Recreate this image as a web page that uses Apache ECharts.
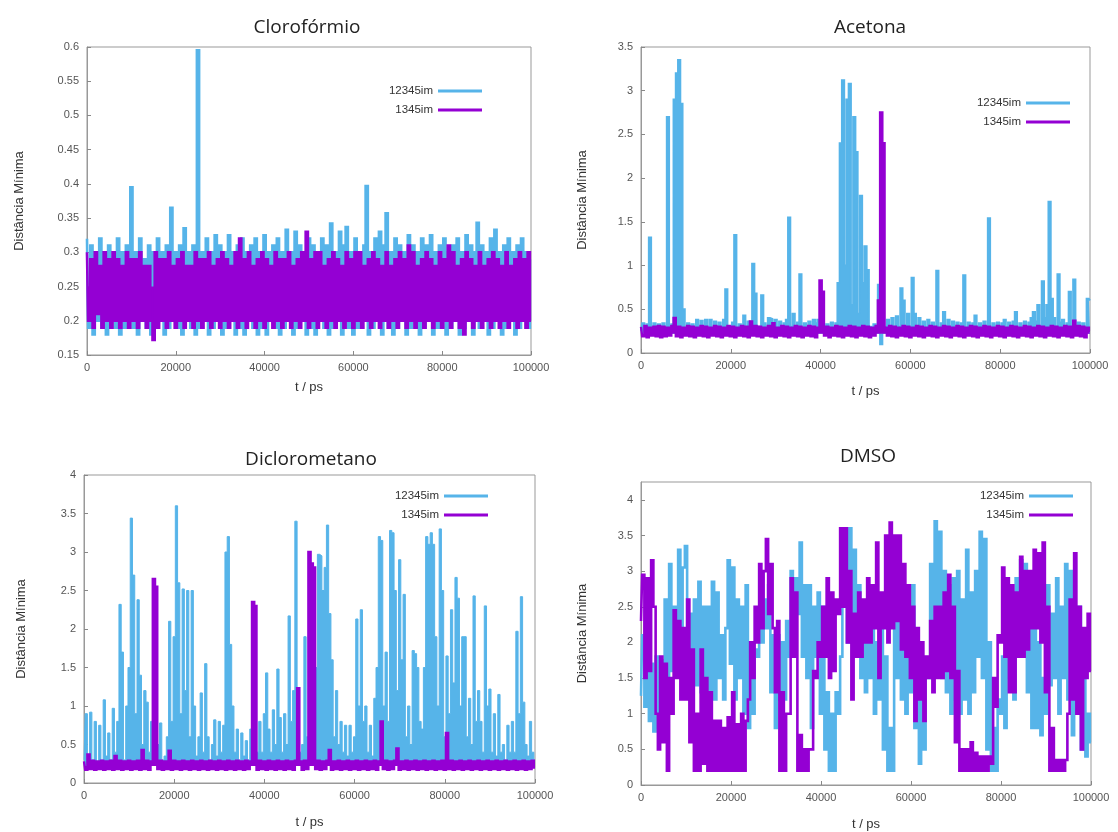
<!DOCTYPE html>
<html>
<head>
<meta charset="utf-8">
<script src="https://cdn.jsdelivr.net/npm/echarts@6/dist/echarts.min.js"></script>
<style>
html,body{margin:0;padding:0;background:#fff;}
#chart{width:1118px;height:832px;}
</style>
</head>
<body>
<div id="chart"></div>
<script>
// Sample times (ps): one sample every 500 ps, 0..100000
const timeStep = 500;
const sampleCount = 201;
const xTicks = [0, 20000, 40000, 60000, 80000, 100000];
const panelTitles = ['Clorofórmio', 'Acetona', 'Diclorometano', 'DMSO'];
const seriesNames = ['12345im', '1345im'];

// Clorofórmio
const cloro12345 = [
0.32,0.19,0.31,0.18,0.30,0.20,0.32,0.19,0.30,0.18,0.31,0.20,0.29,0.19,0.32,0.18,0.30,0.19,0.31,0.20,
0.395,0.19,0.30,0.18,0.32,0.20,0.29,0.19,0.31,0.18,0.30,0.19,0.32,0.20,0.30,0.18,0.31,0.19,0.365,0.20,
0.30,0.19,0.31,0.18,0.335,0.20,0.30,0.19,0.31,0.18,0.595,0.19,0.30,0.20,0.32,0.18,0.30,0.19,0.325,0.20,
0.31,0.18,0.30,0.19,0.325,0.20,0.30,0.18,0.31,0.19,0.32,0.18,0.30,0.20,0.31,0.19,0.32,0.18,0.30,0.19,
0.325,0.18,0.30,0.20,0.31,0.19,0.32,0.18,0.30,0.19,0.333,0.20,0.30,0.18,0.33,0.19,0.31,0.20,0.30,0.18,
0.32,0.19,0.31,0.18,0.30,0.20,0.32,0.19,0.31,0.18,0.342,0.19,0.30,0.20,0.33,0.18,0.31,0.337,0.19,0.30,
0.18,0.32,0.19,0.30,0.20,0.31,0.397,0.18,0.30,0.19,0.32,0.20,0.33,0.18,0.31,0.357,0.19,0.30,0.18,0.32,
0.19,0.31,0.20,0.30,0.18,0.325,0.19,0.31,0.20,0.30,0.18,0.32,0.19,0.31,0.20,0.325,0.18,0.30,0.19,0.31,
0.20,0.32,0.18,0.30,0.19,0.31,0.20,0.32,0.18,0.30,0.19,0.325,0.20,0.31,0.18,0.30,0.343,0.19,0.31,0.20,
0.30,0.18,0.32,0.19,0.333,0.20,0.30,0.18,0.31,0.19,0.32,0.20,0.30,0.18,0.31,0.19,0.32,0.20,0.30,0.19,0.29
];
const cloro1345 = [
0.30,0.20,0.29,0.19,0.30,0.21,0.28,0.19,0.30,0.20,0.29,0.19,0.30,0.20,0.29,0.19,0.28,0.20,0.30,0.19,
0.29,0.20,0.29,0.19,0.30,0.20,0.28,0.19,0.28,0.20,0.172,0.30,0.19,0.29,0.20,0.29,0.19,0.30,0.20,0.28,
0.19,0.29,0.20,0.30,0.19,0.28,0.20,0.28,0.19,0.30,0.20,0.29,0.19,0.29,0.20,0.30,0.19,0.28,0.20,0.29,
0.19,0.30,0.20,0.29,0.19,0.28,0.20,0.30,0.19,0.32,0.20,0.29,0.19,0.30,0.20,0.28,0.19,0.29,0.20,0.30,
0.19,0.29,0.20,0.28,0.19,0.30,0.20,0.29,0.19,0.29,0.20,0.30,0.19,0.28,0.20,0.29,0.19,0.30,0.20,0.33,
0.19,0.29,0.20,0.30,0.19,0.30,0.20,0.28,0.19,0.29,0.20,0.30,0.19,0.29,0.20,0.28,0.19,0.30,0.20,0.29,
0.19,0.30,0.20,0.30,0.19,0.28,0.20,0.29,0.19,0.30,0.20,0.29,0.19,0.28,0.20,0.30,0.19,0.28,0.20,0.29,
0.19,0.30,0.20,0.29,0.19,0.31,0.20,0.30,0.19,0.28,0.20,0.29,0.19,0.30,0.20,0.29,0.19,0.28,0.20,0.30,
0.19,0.29,0.20,0.31,0.19,0.30,0.20,0.28,0.19,0.29,0.18,0.30,0.20,0.29,0.19,0.28,0.20,0.30,0.19,0.28,
0.20,0.29,0.19,0.30,0.20,0.29,0.19,0.28,0.20,0.30,0.19,0.28,0.20,0.29,0.19,0.30,0.20,0.29,0.19,0.30,0.20
];

// Acetona
const acet12345 = [
0.25,0.34,0.24,0.33,1.32,0.25,0.34,0.24,0.33,0.25,
0.34,0.26,2.70,0.25,0.33,2.90,3.20,3.35,2.85,0.50,
0.26,0.34,0.24,0.33,0.25,0.38,0.26,0.37,0.25,0.38,
0.26,0.38,0.25,0.36,0.24,0.35,0.26,0.38,0.73,0.30,
0.25,0.35,1.35,0.28,0.33,0.26,0.43,0.25,0.36,0.24,
1.02,0.68,0.30,0.25,0.66,0.34,0.26,0.40,0.39,0.25,
0.38,0.26,0.36,0.25,0.34,0.38,1.55,0.30,0.45,0.26,
0.35,0.90,0.26,0.34,0.25,0.36,0.26,0.38,0.34,0.38,
0.40,0.65,0.26,0.33,0.25,0.35,0.26,0.34,0.80,2.40,
3.12,1.00,2.90,3.08,0.55,2.70,2.30,0.45,1.80,0.80,
1.22,0.95,0.30,0.26,0.33,0.25,0.78,0.10,0.30,0.26,
0.38,0.27,0.40,0.28,0.42,0.30,0.74,0.60,0.30,0.45,
0.30,0.86,0.45,0.28,0.40,0.26,0.36,0.25,0.38,0.26,
0.35,0.26,0.94,0.27,0.34,0.47,0.26,0.38,0.25,0.36,
0.26,0.35,0.25,0.34,0.89,0.26,0.35,0.25,0.34,0.43,
0.26,0.34,0.25,0.36,0.26,1.54,0.28,0.34,0.25,0.35,
0.26,0.34,0.38,0.26,0.35,0.25,0.36,0.47,0.26,0.34,
0.25,0.36,0.26,0.35,0.40,0.47,0.36,0.55,0.30,0.82,
0.40,0.55,1.73,0.62,0.40,0.30,0.90,0.35,0.38,0.26,
0.34,0.70,0.30,0.84,0.28,0.35,0.25,0.34,0.26,0.62,0.60
];
const acet1345 = [
0.30,0.19,0.31,0.18,0.29,0.20,0.30,0.19,0.31,0.18,
0.30,0.19,0.29,0.20,0.31,0.40,0.19,0.30,0.18,0.29,
0.20,0.31,0.19,0.30,0.18,0.29,0.20,0.31,0.19,0.30,
0.18,0.29,0.20,0.31,0.19,0.30,0.18,0.29,0.20,0.31,
0.19,0.30,0.18,0.29,0.20,0.31,0.19,0.30,0.18,0.36,
0.20,0.31,0.19,0.30,0.18,0.29,0.20,0.31,0.19,0.34,
0.18,0.29,0.20,0.31,0.19,0.30,0.18,0.29,0.20,0.31,
0.19,0.30,0.18,0.29,0.20,0.31,0.19,0.30,0.18,0.29,
0.83,0.70,0.20,0.30,0.18,0.29,0.20,0.31,0.19,0.30,
0.18,0.29,0.20,0.31,0.19,0.30,0.18,0.29,0.20,0.31,
0.19,0.30,0.18,0.29,0.20,0.31,0.60,2.75,2.40,0.29,
0.20,0.31,0.19,0.30,0.18,0.29,0.20,0.31,0.19,0.30,
0.18,0.29,0.20,0.31,0.19,0.30,0.18,0.29,0.20,0.31,
0.19,0.30,0.18,0.29,0.20,0.31,0.19,0.30,0.18,0.29,
0.20,0.31,0.19,0.30,0.18,0.29,0.20,0.31,0.19,0.30,
0.18,0.29,0.20,0.31,0.19,0.30,0.18,0.29,0.20,0.31,
0.19,0.30,0.18,0.29,0.20,0.31,0.19,0.30,0.18,0.29,
0.20,0.31,0.19,0.30,0.18,0.29,0.20,0.31,0.19,0.30,
0.18,0.29,0.20,0.31,0.19,0.30,0.18,0.29,0.20,0.31,
0.19,0.30,0.18,0.37,0.20,0.31,0.19,0.30,0.18,0.29,0.25
];

// Diclorometano
const dicl12345 = [
0.30,0.90,0.35,0.92,0.30,0.80,0.28,0.75,0.30,1.08,
0.35,0.65,0.30,0.97,0.40,0.80,2.32,1.70,0.30,1.00,
1.50,3.44,2.70,0.90,2.38,1.40,0.50,1.20,1.05,0.40,
0.80,0.30,0.28,0.50,0.78,0.30,0.35,0.60,2.10,0.80,
1.90,3.60,2.60,0.90,2.52,1.20,2.50,0.60,2.50,1.00,
0.35,0.60,1.17,0.40,1.55,0.60,0.30,0.50,0.82,0.35,
0.80,0.40,0.75,3.00,3.20,1.80,1.00,0.40,0.70,0.30,
0.65,0.35,0.55,0.30,0.70,0.35,0.30,0.40,0.80,0.40,
0.90,1.43,0.70,0.40,0.95,0.50,1.48,0.85,0.40,0.90,
0.50,2.17,0.80,1.20,3.40,1.00,0.40,0.50,1.90,0.60,
0.30,0.50,0.80,1.50,2.97,2.95,2.50,2.80,3.35,2.20,
1.60,0.60,1.20,0.50,0.80,0.40,0.75,0.35,0.75,0.40,
0.60,2.13,1.00,2.25,0.80,1.00,0.40,0.75,0.35,1.10,
1.50,3.20,3.15,1.00,1.70,0.80,3.28,3.25,2.50,1.20,
2.90,1.60,2.45,0.60,1.00,0.50,1.72,1.68,1.50,0.80,
0.70,1.50,3.20,3.10,3.25,3.10,1.90,1.00,3.30,2.50,
0.60,1.65,0.90,2.25,1.30,2.67,2.40,1.00,1.90,1.90,
0.60,1.10,0.50,2.43,0.80,1.20,0.80,0.40,2.30,1.00,
1.22,0.40,0.90,0.35,1.15,0.40,0.50,0.30,0.75,0.40,
0.80,0.40,1.97,0.90,2.42,1.05,0.50,0.35,0.80,0.40,0.30
];
const dicl1345 = [
0.28,0.17,0.37,0.18,0.29,0.17,0.28,0.18,0.29,0.17,
0.28,0.18,0.29,0.17,0.35,0.18,0.29,0.17,0.28,0.18,
0.29,0.17,0.28,0.18,0.29,0.17,0.43,0.18,0.29,0.17,
0.28,2.65,2.55,0.18,0.29,0.17,0.28,0.18,0.42,0.17,
0.29,0.18,0.28,0.17,0.29,0.18,0.28,0.17,0.29,0.18,
0.28,0.17,0.29,0.18,0.28,0.17,0.29,0.18,0.28,0.17,
0.29,0.18,0.28,0.17,0.29,0.18,0.28,0.17,0.29,0.18,
0.28,0.17,0.29,0.18,0.28,2.35,2.30,0.17,0.29,0.18,
0.28,0.17,0.29,0.18,0.28,0.17,0.29,0.18,0.28,0.17,
0.29,0.18,0.28,0.17,0.29,1.23,0.28,0.17,0.29,0.18,
3.00,2.85,2.80,0.18,0.29,0.17,0.28,0.18,0.29,0.43,
0.17,0.28,0.18,0.29,0.17,0.28,0.18,0.29,0.17,0.28,
0.18,0.29,0.17,0.28,0.18,0.29,0.17,0.28,0.18,0.29,
0.17,0.28,0.80,0.18,0.29,0.17,0.28,0.18,0.29,0.45,
0.17,0.28,0.18,0.29,0.17,0.28,0.18,0.29,0.17,0.28,
0.18,0.29,0.17,0.28,0.18,0.29,0.17,0.28,0.18,0.29,
0.17,0.65,0.18,0.29,0.17,0.28,0.18,0.29,0.17,0.28,
0.18,0.29,0.17,0.28,0.18,0.29,0.17,0.28,0.18,0.29,
0.17,0.28,0.18,0.29,0.17,0.28,0.18,0.29,0.17,0.28,
0.18,0.29,0.17,0.28,0.18,0.29,0.17,0.28,0.18,0.29,0.20
];

// DMSO
const dmso12345 = [
1.25,2.10,1.10,1.60,0.90,1.70,0.75,1.80,0.80,1.75,
1.30,2.60,1.50,3.10,1.60,2.50,2.00,3.30,2.00,3.05,
3.35,1.50,2.40,1.70,2.60,1.40,2.85,1.30,2.50,1.00,
2.50,1.20,2.85,1.20,2.70,1.50,2.10,1.20,2.20,3.15,
1.70,3.05,1.20,2.60,1.50,2.50,1.00,2.80,0.80,1.80,
1.00,1.90,1.80,2.40,2.00,2.60,2.20,2.80,1.30,2.10,
0.80,2.10,1.20,2.00,1.20,2.30,1.80,3.00,2.00,2.90,
2.40,3.40,1.80,2.80,1.50,2.80,0.80,2.50,1.80,2.70,
1.00,2.50,0.50,1.30,0.20,1.00,0.20,1.30,1.00,1.80,
2.50,3.20,2.00,3.60,2.00,3.30,1.80,2.80,1.50,2.50,
1.30,2.40,1.50,2.60,1.00,2.00,1.20,2.40,0.50,1.80,
0.20,0.80,0.20,2.30,1.50,2.60,1.20,2.80,1.00,2.20,
1.30,2.80,0.80,2.00,0.30,1.20,0.50,1.50,1.50,3.10,
2.00,3.70,2.00,3.55,1.50,3.00,1.30,2.80,1.00,2.90,
1.20,3.00,1.00,2.60,1.20,3.30,1.00,2.70,1.30,3.00,
1.80,3.55,1.50,3.45,0.50,2.00,0.20,0.80,0.20,1.20,
1.00,1.80,0.80,2.00,1.50,2.70,1.20,2.90,2.00,3.15,
1.80,3.10,1.30,2.90,0.80,2.50,0.80,2.00,0.70,1.50,
1.00,2.80,1.40,2.40,1.50,2.90,1.00,2.50,1.50,3.10,
1.20,3.00,0.70,2.00,1.00,2.50,0.50,1.50,0.40,1.00,0.60
];
const dmso1345 = [
2.30,2.95,1.50,2.90,1.60,3.15,2.50,1.00,0.50,1.80,
0.60,1.70,0.20,1.50,1.00,2.45,1.50,2.30,1.20,2.20,
1.20,2.60,0.60,1.90,0.20,1.00,0.20,1.90,0.30,1.50,
0.20,1.30,0.20,0.90,0.20,0.90,0.20,0.80,0.20,0.95,
0.20,1.30,0.20,0.85,0.20,1.00,0.20,0.90,1.20,2.00,
1.50,2.50,2.00,3.10,2.20,3.00,3.45,2.40,3.10,2.20,
1.30,2.30,0.20,1.30,0.20,1.00,1.00,2.90,1.80,2.70,
0.20,0.70,0.20,0.50,0.20,0.50,0.50,1.60,1.50,2.00,
1.80,2.50,1.80,2.90,1.50,2.70,1.60,2.60,2.40,3.60,
2.50,3.60,2.00,3.00,1.20,2.40,1.80,2.70,1.80,2.60,
2.00,2.90,2.00,2.80,2.20,3.40,1.50,2.70,2.20,3.50,
2.00,3.68,2.20,3.50,2.30,3.50,1.90,3.10,1.80,2.80,
1.50,2.50,0.90,2.20,1.20,2.00,0.90,1.80,1.50,2.30,
1.30,2.50,1.50,2.50,1.50,2.70,1.60,2.95,1.50,2.50,
0.60,1.60,0.20,0.50,0.20,0.50,0.20,0.60,0.20,0.45,
0.20,0.40,0.20,0.40,0.20,0.40,0.30,1.50,1.10,2.10,
2.00,3.05,1.80,2.90,1.30,2.80,1.30,2.70,1.80,3.20,
1.80,3.00,1.90,3.00,2.20,3.30,2.20,3.25,2.00,3.40,
1.30,2.50,0.20,0.80,0.20,0.35,0.20,0.35,0.20,0.35,
1.00,2.60,1.20,3.25,1.00,2.50,0.50,2.20,1.50,2.40,1.60
];

const yMin = [0.15, 0, 0, 0];
const yMax = [0.6, 3.5, 4, 4.25];
const yInterval = [0.05, 0.5, 0.5, 0.5];

const panelData = [
  [cloro12345, cloro1345],
  [acet12345, acet1345],
  [dicl12345, dicl1345],
  [dmso12345, dmso1345]
];

const colors = ['#56B4E9', '#9400D3'];
// stroke widths per panel: [12345im, 1345im]
const lineWidths = [[2.6, 2.6], [2.0, 2.4], [1.0, 2.4], [2.6, 2.6]];
// value the filled band is drawn against (null = plain line)
const fillOrigin = [0.25, 0.22, 0.22, null];

const timeValues = [];
for (let i = 0; i < sampleCount; i++) timeValues.push(i * timeStep);

const grids = [
  {left: 87, top: 47, width: 444, height: 308},
  {left: 641, top: 47, width: 449, height: 306},
  {left: 84, top: 475, width: 451, height: 308},
  {left: 641, top: 482, width: 450, height: 303}
];
const titlePos = [
  {x: 302, y: 13}, {x: 865, y: 13}, {x: 306, y: 445}, {x: 863, y: 442}
];
const legendPos = [
  {right: 631, top: 80}, {right: 43, top: 92}, {right: 625, top: 485}, {right: 40, top: 485}
];
const yNameGap = [61, 52, 56, 52];
const xNameGap = [26, 32, 33, 33];

const labelFont = {fontFamily: 'Liberation Sans, Arial, sans-serif', fontSize: 11, color: '#555'};
const nameFont = {fontFamily: 'Liberation Sans, Arial, sans-serif', fontSize: 13, color: '#333'};

const option = {
  animation: false,
  backgroundColor: '#fff',
  title: panelTitles.map((t, k) => ({
    text: t, left: titlePos[k].x, top: titlePos[k].y, textAlign: 'center',
    textStyle: {fontFamily: 'Open Sans, sans-serif', fontSize: 19, fontWeight: 'normal', color: '#222'}
  })),
  grid: grids.map(g => Object.assign({show: true, borderColor: '#999', borderWidth: 1, backgroundColor: 'transparent'}, g)),
  legend: legendPos.map(p => ({
    data: seriesNames, orient: 'vertical', align: 'right', right: p.right, top: p.top,
    icon: 'rect', itemWidth: 44, itemHeight: 3, itemGap: 7,
    textStyle: {fontFamily: 'Liberation Sans, Arial, sans-serif', fontSize: 11.5, color: '#333'},
    selectedMode: false
  })),
  xAxis: grids.map((g, k) => ({
    type: 'value', gridIndex: k, min: 0, max: 100000, interval: 20000,
    name: 't / ps', nameLocation: 'middle', nameGap: xNameGap[k], nameTextStyle: nameFont,
    axisLine: {show: true, lineStyle: {color: '#999'}},
    axisTick: {show: true, inside: true, length: 4, lineStyle: {color: '#888'}},
    splitLine: {show: false},
    axisLabel: Object.assign({margin: 7, formatter: v => String(v)}, labelFont)
  })),
  yAxis: grids.map((g, k) => ({
    type: 'value', gridIndex: k, min: yMin[k], max: yMax[k], interval: yInterval[k],
    name: 'Distância Mínima', nameLocation: 'middle', nameGap: yNameGap[k], nameTextStyle: nameFont,
    axisLine: {show: true, lineStyle: {color: '#999'}},
    axisTick: {show: true, inside: true, length: 4, lineStyle: {color: '#888'}},
    splitLine: {show: false},
    axisLabel: Object.assign({margin: 8, showMaxLabel: k !== 3,
      formatter: v => String(Math.round(v * 100) / 100)}, labelFont)
  })),
  series: []
};

panelData.forEach((pair, k) => {
  pair.forEach((vals, s) => {
    const ser = {
      type: 'line', name: seriesNames[s], xAxisIndex: k, yAxisIndex: k,
      data: vals.map((v, i) => [timeValues[i], v]),
      step: 'middle',
      showSymbol: false, symbol: 'none', sampling: null,
      lineStyle: {color: colors[s], width: lineWidths[k][s], join: 'miter'},
      itemStyle: {color: colors[s]},
      z: 2 + s
    };
    if (fillOrigin[k] !== null) {
      ser.areaStyle = {color: colors[s], opacity: 1, origin: fillOrigin[k]};
    }
    option.series.push(ser);
  });
});

const chart = echarts.init(document.getElementById('chart'), null, {renderer: 'canvas'});
chart.setOption(option);
</script>
</body>
</html>
